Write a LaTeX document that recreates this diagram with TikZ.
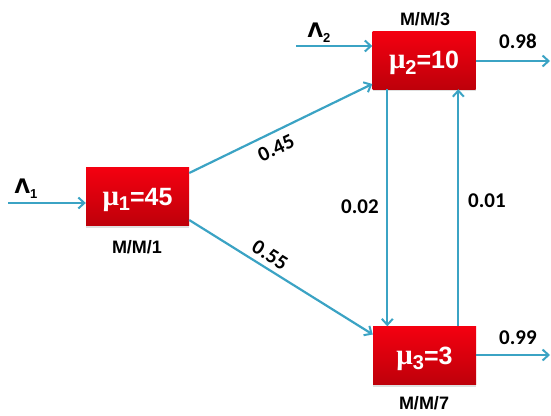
\documentclass[tikz,border=0pt]{standalone}
\usepackage{fontspec}
\setmainfont{Liberation Sans}
\newfontfamily\numfont{Carlito}
\newfontfamily\mufont{Liberation Serif}
\newfontfamily\lamfont{DejaVu Sans}
\usetikzlibrary{arrows.meta,calc,shadows}
\definecolor{flow}{RGB}{59,163,196}
\definecolor{boxtop}{RGB}{244,0,16}
\definecolor{boxbot}{RGB}{190,0,10}
\newcommand{\stn}[2]{{\mufont\fontsize{29}{29}\selectfont μ}\raisebox{-0.4ex}{\fontsize{20}{20}\selectfont\bfseries #1}=#2}
\newcommand{\lam}[1]{{\lamfont\bfseries Λ}\raisebox{-0.45ex}{\fontsize{13}{13}\selectfont\bfseries #1}}
\begin{document}
\begin{tikzpicture}[x=1pt,y=-1pt,
  station/.style={rectangle, minimum width=103pt, minimum height=58pt,
    inner sep=0pt, text depth=-4pt, top color=boxtop, bottom color=boxbot,
    text=white, font=\fontsize{25}{25}\selectfont\bfseries,
    drop shadow={shadow xshift=0pt, shadow yshift=-2pt, opacity=0.25}},
  flowline/.style={draw=flow, line width=2.2pt,
    -{Straight Barb[length=6pt,width=11pt,line width=2pt]}},
  kind/.style={font=\fontsize{18}{18}\selectfont\bfseries},
  prob/.style={font=\numfont\fontsize{21}{21}\selectfont\bfseries},
  rate/.style={font=\fontsize{20}{20}\selectfont\bfseries}]
\useasboundingbox (0,0) rectangle (551,415);

% queueing stations
\node[station] (b1) at (137.5,196.5) {\stn{1}{45}};
\node[station] (b2) at (424,60) {\stn{2}{10}};
\node[station] (b3) at (424.5,355.5) {\stn{3}{3}};

% station types
\node[kind] (k1) at (137,247) {M/M/1};
\node[kind] (k2) at (425,19) {M/M/3};
\node[kind] (k3) at (424,403) {M/M/7};

% external arrivals and departures
\coordinate (in1) at (8,203);
\coordinate (in2) at (296,46);
\coordinate (out2) at (550,61);
\coordinate (out3) at (550,355);
\draw[flowline] (in1) -- (in1 -| b1.west);
\draw[flowline] (in2) -- (in2 -| b2.west);
\draw[flowline] (b2.east |- out2) -- (out2);
\draw[flowline] (b3.east |- out3) -- (out3);
\node[rate] (l1) at (26,189) {\lam{1}};
\node[rate] (l2) at (319,33) {\lam{2}};
\node[prob] (p98) at (518,41) {0.98};
\node[prob] (p99) at (518,338) {0.99};

% routing between stations
\draw[flowline] ($(b1.east)+(0,-23.5)$) -- ($(b2.west)+(0,24)$);
\draw[flowline] ($(b1.east)+(0,23.5)$) -- ($(b3.west)+(0,-21)$);
\draw[flowline] ($(b2.south west)+(15,0)$) -- ($(b3.north west)+(14.5,0)$);
\draw[flowline] ($(b3.north west)+(85.5,0)$) -- ($(b2.south west)+(86,0)$);
\node[prob, rotate=25] (p45) at (276,148) {0.45};
\node[prob, rotate=-32] (p55) at (270,255) {0.55};
\node[prob] (p02) at (360,207) {0.02};
\node[prob] (p01) at (487,201) {0.01};
\end{tikzpicture}
\end{document}
